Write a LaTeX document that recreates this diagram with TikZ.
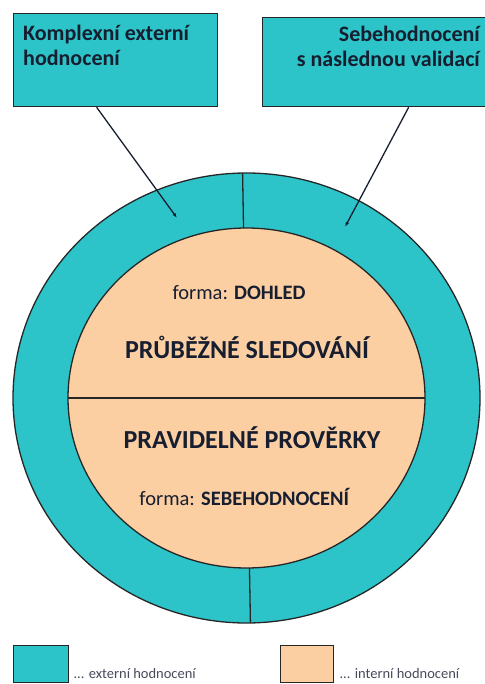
\documentclass[tikz,border=0pt]{standalone}
\usepackage{fontspec}
\setmainfont{Carlito}
\usepackage{tikz}
\usetikzlibrary{arrows.meta,positioning,calc,shapes.geometric}
\definecolor{extteal}{RGB}{44,196,200}
\definecolor{intorange}{RGB}{251,207,162}
\definecolor{figtext}{RGB}{22,30,48}
\tikzset{
  evalbox/.style={draw=black!85, line width=1.3pt, fill=extteal, inner sep=0pt},
  ringshape/.style={ellipse, draw=black!85, line width=1.3pt, inner sep=0pt, outer sep=0pt},
  boxtext/.style={font=\fontsize{22}{25}\selectfont\bfseries, text=figtext, inner sep=0pt},
  titletext/.style={font=\fontsize{26}{30}\selectfont\bfseries, text=figtext, inner sep=0pt},
  formtext/.style={font=\fontsize{20.5}{24}\selectfont, text=figtext, inner sep=0pt},
  keytext/.style={font=\fontsize{14.5}{16}\selectfont, text=figtext!80, inner sep=0pt, anchor=base west},
  divider/.style={draw=black!85, line width=1.3pt},
  line/.style={-{Latex[length=5pt,width=3.5pt]}, draw=figtext, line width=1.3pt}
}
\begin{document}
\begin{tikzpicture}[x=1pt,y=-1pt]
  \useasboundingbox (0,0) rectangle (484,684);

  \node[evalbox, minimum width=204, minimum height=93, anchor=north west] (extBox) at (13,13) {};
  \node[evalbox, minimum width=226, minimum height=89, anchor=north west] (selfBox) at (262,17) {};
  \node[boxtext, anchor=north west, align=left] (extText) at (23,25) {Komplexní externí\\hodnocení};
  \node[boxtext, anchor=north east, align=right] (selfText) at (480,26) {Sebehodnocení\\s následnou validací};

  \node[ringshape, fill=extteal, minimum width=467, minimum height=450] (outerRing) at (246.5,398) {};
  \node[ringshape, fill=intorange, minimum width=357, minimum height=340] (innerRing) at (246.5,398) {};

  \draw[divider] (outerRing.91) -- (innerRing.91.2);
  \draw[divider] (innerRing.271.9) -- (outerRing.271.4);
  \draw[divider] (innerRing.west) -- (innerRing.east);

  \node[formtext] (dohled) at (239,293) {forma: \textbf{DOHLED}};
  \node[titletext] (sledovani) at (247,347) {PRŮBĚŽNÉ SLEDOVÁNÍ};
  \node[titletext] (proverky) at (252,438) {PRAVIDELNÉ PROVĚRKY};
  \node[formtext] (sebehodnoceni) at (245,497) {forma: \textbf{SEBEHODNOCENÍ}};

  \coordinate (extTip) at (177,218);
  \coordinate (selfTip) at (345,227);
  \draw[line] ($(extBox.south)+(-19,0)$) -- (extTip);
  \draw[line] ($(selfBox.south)+(33,0)$) -- (selfTip);

  % legenda
  \node[evalbox, minimum width=55, minimum height=37, anchor=north west] (extKey) at (13,645) {};
  \node[evalbox, fill=intorange, minimum width=53, minimum height=37, anchor=north west] (intKey) at (280,645) {};
  \node[keytext] (extKeyText) at ([xshift=4pt, yshift=5pt]extKey.south east) {... externí hodnocení};
  \node[keytext] (intKeyText) at ([xshift=5pt, yshift=5pt]intKey.south east) {... interní hodnocení};
\end{tikzpicture}
\end{document}
